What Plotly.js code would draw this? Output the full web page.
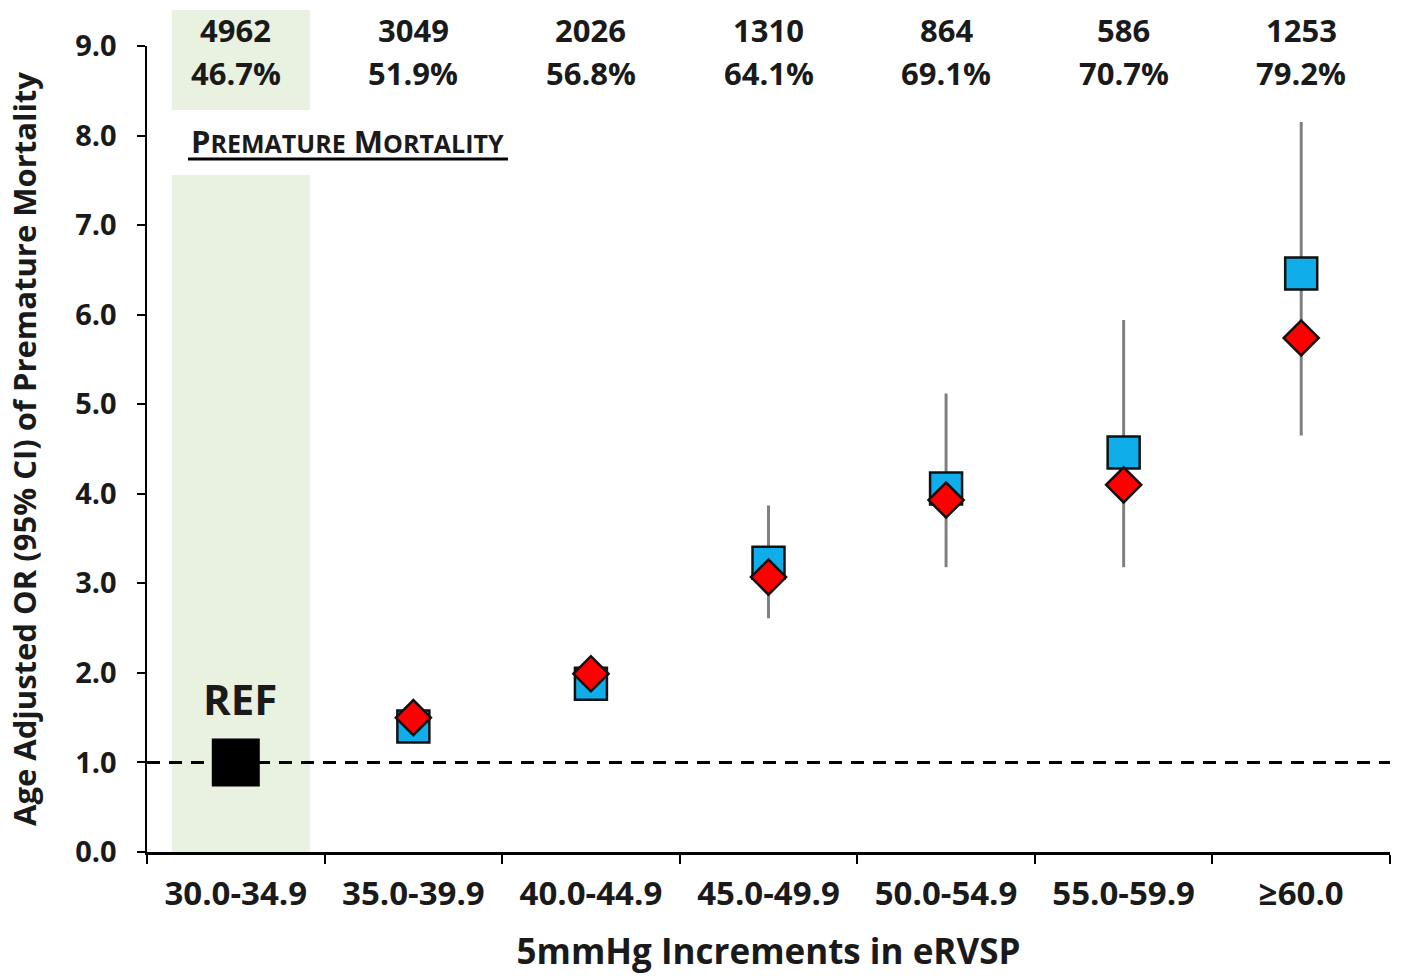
<!DOCTYPE html>
<html>
<head>
<meta charset="utf-8">
<script src="https://cdn.plot.ly/plotly-3.0.1.min.js"></script>
<style>
html,body{margin:0;padding:0;background:#fff;}
#chart{width:1404px;height:979px;}
</style>
</head>
<body>
<div id="chart"></div>
<script>
// ---- data ----
const categories = ['30.0-34.9','35.0-39.9','40.0-44.9','45.0-49.9','50.0-54.9','55.0-59.9','\u226560.0'];
const counts = ['4962','3049','2026','1310','864','586','1253'];
const percents = ['46.7%','51.9%','56.8%','64.1%','69.1%','70.7%','79.2%'];
const refCategory = ['30.0-34.9'];
const refOR = [1.0];
const compCategories = ['35.0-39.9','40.0-44.9','45.0-49.9','50.0-54.9','55.0-59.9','\u226560.0'];
const blueOR = [1.40, 1.88, 3.23, 4.06, 4.46, 6.46];
const ciLow  = [1.25, 1.70, 2.61, 3.18, 3.18, 4.65];
const ciHigh = [1.58, 2.08, 3.87, 5.12, 5.94, 8.15];
const redOR  = [1.50, 1.99, 3.07, 3.93, 4.10, 5.74];

// ---- styling ----
const FONT = 'Open Sans, Lato, Arial, sans-serif';
const TXT = '#1a1a1a';

const traces = [
  {
    type: 'scatter', mode: 'markers', x: refCategory, y: refOR,
    marker: {symbol: 'square', size: 48, color: '#000000', line: {width: 0}},
    hoverinfo: 'skip', showlegend: false
  },
  {
    type: 'scatter', mode: 'markers', x: compCategories, y: blueOR,
    marker: {symbol: 'square', size: 32, color: '#0FAEEA', line: {color: '#111111', width: 2.5}},
    error_y: {
      type: 'data', symmetric: false,
      array: ciHigh.map((h, i) => h - blueOR[i]),
      arrayminus: ciLow.map((l, i) => blueOR[i] - l),
      color: '#808080', thickness: 3, width: 0
    },
    showlegend: false
  },
  {
    type: 'scatter', mode: 'markers', x: compCategories, y: redOR,
    marker: {symbol: 'diamond', size: 27, color: '#FF0000', line: {color: '#111111', width: 2.5}},
    showlegend: false
  }
];

const annotations = [];
categories.forEach((c, i) => {
  annotations.push({x: c, xref: 'x', y: 1.020, yref: 'paper', text: counts[i], showarrow: false,
    xanchor: 'center', yanchor: 'middle', font: {family: FONT, size: 31, color: TXT, weight: 'bold'}});
  annotations.push({x: c, xref: 'x', y: 0.966, yref: 'paper', text: percents[i], showarrow: false,
    xanchor: 'center', yanchor: 'middle', font: {family: FONT, size: 31, color: TXT, weight: 'bold'}});
});
annotations.push({
  x: -0.265, xref: 'x', xanchor: 'left', y: 0.882, yref: 'paper', yanchor: 'middle', showarrow: false,
  text: 'P<span style="font-size:25px">REMATURE</span> M<span style="font-size:25px">ORTALITY</span>',
  font: {family: FONT, size: 31, color: TXT, weight: 'bold'}
});
annotations.push({
  x: refCategory[0], xref: 'x', xshift: 4, y: 1.71, yref: 'y', yanchor: 'middle', showarrow: false,
  text: 'REF', font: {family: FONT, size: 42, color: TXT, weight: 'bold'}
});

const shapes = [
  {type: 'rect', layer: 'below', xref: 'x', yref: 'paper', x0: -0.36, x1: 0.418, y0: 0.9206, y1: 1.0447,
    fillcolor: '#E9F1E1', line: {width: 0}},
  {type: 'rect', layer: 'below', xref: 'x', yref: 'paper', x0: -0.36, x1: 0.418, y0: 0, y1: 0.840,
    fillcolor: '#E9F1E1', line: {width: 0}},
  {type: 'line', layer: 'below', xref: 'paper', yref: 'y', x0: 0, x1: 1, y0: 1, y1: 1,
    line: {color: '#000000', width: 3, dash: '13px,9px'}},
  {type: 'line', layer: 'above', xref: 'paper', yref: 'paper', x0: 0.033, x1: 0.2904, y0: 0.8598, y1: 0.8598,
    line: {color: '#000000', width: 3}}
];

const layout = {
  width: 1404, height: 979,
  margin: {l: 147, r: 14, t: 46, b: 127, pad: 0},
  paper_bgcolor: '#ffffff', plot_bgcolor: 'rgba(0,0,0,0)',
  showlegend: false,
  xaxis: {
    type: 'category', categoryorder: 'array', categoryarray: categories,
    range: [-0.5, 6.5], showgrid: false, zeroline: false,
    showline: true, linecolor: '#000000', linewidth: 2.5,
    ticks: 'outside', tickson: 'boundaries', ticklen: 9, tickwidth: 2, tickcolor: '#000000',
    tickfont: {family: FONT, size: 33, color: TXT, weight: 'bold'},
    ticklabelstandoff: 11,
    title: {text: '5mmHg Increments in eRVSP', standoff: 26,
      font: {family: FONT, size: 35, color: TXT, weight: 'bold'}},
    automargin: false, fixedrange: true
  },
  yaxis: {
    range: [0, 9], dtick: 1, tick0: 0, tickformat: '.1f',
    showgrid: false, zeroline: false,
    showline: true, linecolor: '#000000', linewidth: 2.5,
    ticks: 'outside', ticklen: 8, tickwidth: 2, tickcolor: '#000000',
    tickfont: {family: FONT, size: 29, color: TXT, weight: 'bold'},
    ticklabelstandoff: 14,
    title: {text: 'Age Adjusted OR (95% CI) of Premature Mortality', standoff: 30,
      font: {family: FONT, size: 31, color: TXT, weight: 'bold'}},
    automargin: false, fixedrange: true
  },
  annotations: annotations,
  shapes: shapes
};

Plotly.newPlot('chart', traces, layout, {displayModeBar: false, staticPlot: true});
</script>
</body>
</html>
